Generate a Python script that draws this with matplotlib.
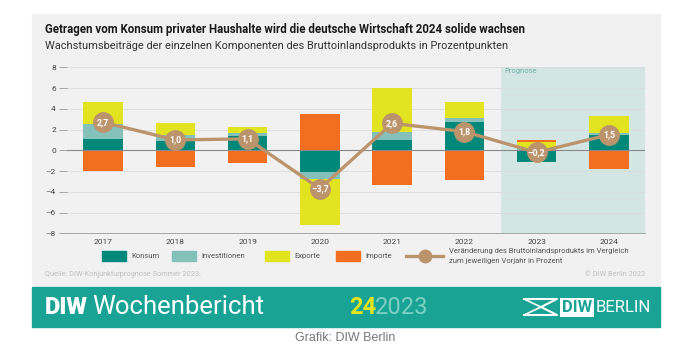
import matplotlib.pyplot as plt
from matplotlib.patches import Rectangle
from matplotlib.lines import Line2D
import numpy as np

plt.rcParams['font.family'] = ['Roboto', 'DejaVu Sans']

# Wachstumsbeiträge in Prozentpunkten
years = ['2017', '2018', '2019', '2020', '2021', '2022', '2023', '2024']
konsum = [1.1, 0.9, 1.4, -2.1, 1.0, 2.7, -1.1, 1.5]
investitionen = [1.4, 0.6, 0.3, -0.7, 0.8, 0.4, 0.2, 0.2]
exporte = [2.2, 1.1, 0.5, -4.4, 4.2, 1.6, 0.6, 1.6]
importe = [-2.0, -1.6, -1.2, 3.5, -3.3, -2.9, 0.2, -1.8]
bip = [2.7, 1.0, 1.1, -3.7, 2.6, 1.8, -0.2, 1.5]

c_konsum = '#00897b'
c_invest = '#84c1bb'
c_export = '#e1e41e'
c_import = '#f26f21'
c_line = '#bc946c'
c_panel = '#f1f1f1'
c_banner = '#18a394'

fig = plt.figure(figsize=(6.91, 3.5), dpi=100)
W, H = 691, 350

def fig_rect(x0, y0, x1, y1, color, z=-1):
    # rectangle in pixel coords (top-left origin)
    fig.patches.append(Rectangle((x0 / W, 1 - y1 / H), (x1 - x0) / W, (y1 - y0) / H,
                                 transform=fig.transFigure, color=color, zorder=z))

fig_rect(32, 14, 660, 285, c_panel)
fig_rect(32, 287, 660, 327, c_banner)

ax = fig.add_axes([67 / W, 1 - 233.3 / H, (645 - 67) / W, (233.3 - 67.3) / H])
ax.set_facecolor('none')

x = np.arange(len(years))
width = 0.55
pos_base = np.zeros(len(years))
neg_base = np.zeros(len(years))
for vals, col in [(konsum, c_konsum), (investitionen, c_invest), (exporte, c_export), (importe, c_import)]:
    vals = np.array(vals)
    bottom = np.where(vals >= 0, pos_base, neg_base)
    ax.bar(x, vals, width, bottom=bottom, color=col, zorder=3)
    pos_base = pos_base + np.where(vals >= 0, vals, 0)
    neg_base = neg_base + np.where(vals < 0, vals, 0)

ax.plot(x, bip, color=c_line, lw=2.4, zorder=4)
ax.plot(x, bip, 'o', color=c_line, ms=14, zorder=5)
for xi, v in zip(x, bip):
    lab = f'{v:.1f}'.replace('.', ',').replace('-', '\u2013')
    ax.text(xi, v, lab, ha='center', va='center', color='white', fontsize=6.3,
            fontweight='bold', zorder=6)

# Prognose
ax.axvspan(5.5, 7.5, color='#d4e6e4', zorder=1, lw=0)
ax.text(5.55, 7.6, 'Prognose', color='#6fb3ab', fontsize=5.5, va='center', ha='left')

ax.set_xlim(-0.5, 7.5)
ax.set_ylim(-8, 8)
ax.set_yticks(range(-8, 9, 2))
ax.set_yticklabels([str(t).replace('-', '\u2013') for t in range(-8, 9, 2)])
ax.set_xticks(x)
ax.set_xticklabels(years)
ax.tick_params(axis='y', length=6, width=0.6, color='#999999', labelsize=6, labelcolor='#444444', pad=2)
ax.tick_params(axis='x', length=0, labelsize=6, labelcolor='#444444', pad=4)
ax.grid(axis='y', color='#dcdcdc', lw=0.6, zorder=0)
ax.axhline(0, color='#888888', lw=0.8, zorder=3.5)
for s in ['top', 'right', 'left']:
    ax.spines[s].set_visible(False)
ax.spines['bottom'].set_color('#999999')
ax.spines['bottom'].set_linewidth(0.6)

# titles
fig.text(45 / W, 1 - 30 / H, 'Getragen vom Konsum privater Haushalte wird die deutsche Wirtschaft 2024 solide wachsen',
         fontsize=8.3, fontweight='bold', color='#1a1a1a', va='center')
fig.text(45 / W, 1 - 46 / H, 'Wachstumsbeiträge der einzelnen Komponenten des Bruttoinlandsprodukts in Prozentpunkten',
         fontsize=7.9, color='#333333', va='center')

# legend
leg_y = 256
for x0, col, lab in [(102, c_konsum, 'Konsum'), (172, c_invest, 'Investitionen'),
                     (265, c_export, 'Exporte'), (336, c_import, 'Importe')]:
    fig_rect(x0, leg_y - 5, x0 + 24, leg_y + 5, col, z=1)
    fig.text((x0 + 29) / W, 1 - leg_y / H, lab, fontsize=5.5, color='#555555', va='center')
fig.lines.append(Line2D([406 / W, 443 / W], [1 - leg_y / H] * 2, color=c_line, lw=2.4,
                        transform=fig.transFigure))
fig.lines.append(Line2D([425 / W], [1 - leg_y / H], marker='o', ms=9, color=c_line,
                        transform=fig.transFigure))
fig.text(449 / W, 1 - 251 / H, 'Veränderung des Bruttoinlandsprodukts im Vergleich',
         fontsize=5.5, color='#555555', va='center')
fig.text(449 / W, 1 - 261 / H, 'zum jeweiligen Vorjahr in Prozent',
         fontsize=5.5, color='#555555', va='center')

fig.text(45 / W, 1 - 274 / H, 'Quelle: DIW-Konjunkturprognose Sommer 2023.', fontsize=5.3,
         color='#c0c0c0', va='center')
fig.text(645 / W, 1 - 274 / H, '© DIW Berlin 2023', fontsize=5.3, color='#c0c0c0',
         va='center', ha='right')

# banner
fig.text(45 / W, 1 - 307 / H, 'DIW', fontsize=17, fontweight='black', color='white', va='center')
fig.text(92 / W, 1 - 307 / H, 'Wochenbericht', fontsize=18.5, color='white', va='center')
fig.text(349 / W, 1 - 307 / H, '24', fontsize=17, fontweight='bold', color='#e1e41e', va='center')
fig.text(375 / W, 1 - 307 / H, '2023', fontsize=17, color='#7fd0c4', va='center')
fig.text(562 / W, 1 - 307 / H, 'DIW', fontsize=12, fontweight='bold', color=c_banner, va='center',
         bbox=dict(boxstyle='square,pad=0.12', fc='white', ec='none'))
fig.text(596 / W, 1 - 307 / H, 'BERLIN', fontsize=12, color='white', va='center')
fig.lines.append(Line2D([524 / W, 557 / W, 541 / W, 557 / W, 524 / W],
                        [1 - 299 / H, 1 - 299 / H, 1 - 307 / H, 1 - 315 / H, 1 - 315 / H],
                        color='white', lw=1.5, transform=fig.transFigure))
fig.lines.append(Line2D([524 / W, 541 / W, 524 / W],
                        [1 - 299 / H, 1 - 307 / H, 1 - 315 / H],
                        color='white', lw=1.2, transform=fig.transFigure))

fig.text(345 / W, 1 - 338 / H, 'Grafik: DIW Berlin', fontsize=9, color='#777777',
         ha='center', va='center', family=['Liberation Sans', 'DejaVu Sans'])

fig.savefig('out.png', dpi=100)
